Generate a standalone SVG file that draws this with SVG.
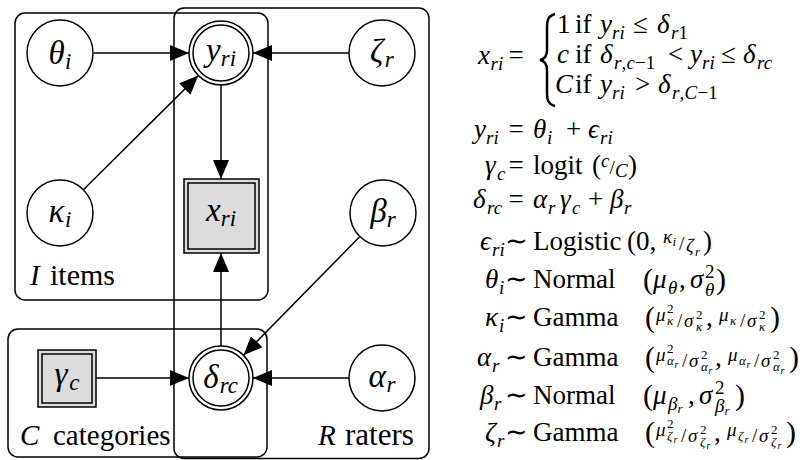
<svg xmlns="http://www.w3.org/2000/svg" width="807" height="460" viewBox="0 0 807 460">
<defs>
<marker id="ah" markerUnits="userSpaceOnUse" markerWidth="19" markerHeight="16" refX="19" refY="8" orient="auto">
<path d="M0,0 L19,8 L0,16 z" fill="#000"/>
</marker>
</defs>
<rect width="807" height="460" fill="#fff"/>
<g id="plates" fill="none" stroke="#000" stroke-width="1.5">
<rect id="plate-I" x="15" y="13" width="253" height="287" rx="10"/>
<rect id="plate-R" x="174" y="8" width="255" height="450.5" rx="10"/>
<rect id="plate-C" x="8" y="329" width="259" height="128" rx="10"/>
</g>
<g id="plate-labels" fill="#000">
<text x="30" y="285" font-family="Liberation Serif" font-size="29" font-style="italic">I</text>
<text x="50" y="285" font-family="Liberation Serif" font-size="30">items</text>
<text x="20" y="445" font-family="Liberation Serif" font-size="29" font-style="italic">C</text>
<text x="53" y="445" font-family="Liberation Serif" font-size="29">categories</text>
<text x="318" y="445" font-family="Liberation Serif" font-size="29" font-style="italic">R</text>
<text x="345" y="445" font-family="Liberation Serif" font-size="31">raters</text>
</g>
<g id="connectors" fill="none" stroke="#000" stroke-width="1.5" marker-end="url(#ah)">
<path d="M94,53 L189,53"/>
<path d="M349,53 L253,53"/>
<path d="M83.4,189.7 L198.3,75.6"/>
<path d="M221,85 L221,179"/>
<path d="M221,346 L221,253"/>
<path d="M359.9,236.5 L243.4,355.2"/>
<path d="M96,378 L189,378"/>
<path d="M349,378 L253,378"/>
</g>
<g id="theta">
<circle cx="60" cy="53" r="33" fill="#fff" stroke="#000" stroke-width="1.5"/>
<text x="48.5" y="64" font-family="Liberation Serif" font-size="33" font-style="italic">θ</text>
<text x="65" y="69" font-family="Liberation Serif" font-size="23" font-style="italic">i</text>
</g>
<g id="y">
<circle cx="221" cy="53" r="32" fill="#fff" stroke="#000" stroke-width="1.5"/>
<circle cx="221" cy="53" r="28" fill="#fff" stroke="#000" stroke-width="1.5"/>
<text x="206" y="61" font-family="Liberation Serif" font-size="33" font-style="italic">y</text>
<text x="220.7" y="66" font-family="Liberation Serif" font-size="23" font-style="italic">ri</text>
</g>
<g id="zeta">
<circle cx="382" cy="53" r="33" fill="#fff" stroke="#000" stroke-width="1.5"/>
<text x="370" y="62" font-family="Liberation Serif" font-size="33" font-style="italic">ζ</text>
<text x="384.8" y="67" font-family="Liberation Serif" font-size="23" font-style="italic">r</text>
</g>
<g id="kappa">
<circle cx="60" cy="213" r="33" fill="#fff" stroke="#000" stroke-width="1.5"/>
<text x="48.5" y="222" font-family="Liberation Serif" font-size="33" font-style="italic">κ</text>
<text x="65" y="227" font-family="Liberation Serif" font-size="23" font-style="italic">i</text>
</g>
<g id="x">
<rect x="184" y="179" width="75" height="74" fill="#dcdcdc" stroke="#000" stroke-width="1.5"/>
<rect x="188" y="183" width="67" height="66" fill="#dcdcdc" stroke="#000" stroke-width="1.5"/>
<text x="206" y="221" font-family="Liberation Serif" font-size="33" font-style="italic">x</text>
<text x="220.7" y="226" font-family="Liberation Serif" font-size="23" font-style="italic">ri</text>
</g>
<g id="beta">
<circle cx="383" cy="213" r="33" fill="#fff" stroke="#000" stroke-width="1.5"/>
<text x="370.3" y="222" font-family="Liberation Serif" font-size="33" font-style="italic">β</text>
<text x="386.8" y="227" font-family="Liberation Serif" font-size="23" font-style="italic">r</text>
</g>
<g id="gamma">
<rect x="38" y="350" width="58" height="57" fill="#dcdcdc" stroke="#000" stroke-width="1.5"/>
<rect x="42" y="354" width="50" height="49" fill="#dcdcdc" stroke="#000" stroke-width="1.5"/>
<text x="54.5" y="385" font-family="Liberation Serif" font-size="33" font-style="italic">γ</text>
<text x="69.2" y="390" font-family="Liberation Serif" font-size="23" font-style="italic">c</text>
</g>
<g id="delta">
<circle cx="221" cy="378" r="32" fill="#fff" stroke="#000" stroke-width="1.5"/>
<circle cx="221" cy="378" r="28" fill="#fff" stroke="#000" stroke-width="1.5"/>
<text x="203.2" y="388" font-family="Liberation Serif" font-size="33" font-style="italic">δ</text>
<text x="219.7" y="393" font-family="Liberation Serif" font-size="23" font-style="italic">rc</text>
</g>
<g id="alpha">
<circle cx="382" cy="378" r="33" fill="#fff" stroke="#000" stroke-width="1.5"/>
<text x="368.5" y="387" font-family="Liberation Serif" font-size="33" font-style="italic">α</text>
<text x="386.5" y="392" font-family="Liberation Serif" font-size="23" font-style="italic">r</text>
</g>
<g id="equations" fill="#000">
<path d="M555,14 C548,16 547,20 547,28 L547,50 C547,56 545,59 540,60 C545,61 547,64 547,70 L547,92 C547,100 548,104 555,106" fill="none" stroke="#000" stroke-width="2.5"/>
<text x="478" y="64" font-family="Liberation Serif" font-size="27" font-style="italic">x</text>
<text x="490.5" y="70" font-family="Liberation Serif" font-size="19" font-style="italic">ri</text>
<text x="516" y="64" font-family="Liberation Serif" font-size="27" text-anchor="middle">=</text>

<text x="557" y="33" font-family="Liberation Serif" font-size="27">1</text>
<text x="575" y="33" font-family="Liberation Serif" font-size="27">if</text>
<text x="600" y="33" font-family="Liberation Serif" font-size="27" font-style="italic">y</text>
<text x="612" y="39" font-family="Liberation Serif" font-size="19" font-style="italic">ri</text>
<text x="633" y="33" font-family="Liberation Serif" font-size="27">≤</text>
<text x="657" y="33" font-family="Liberation Serif" font-size="27" font-style="italic">δ</text>
<text x="671" y="39" font-family="Liberation Serif" font-size="19" font-style="italic">r</text>
<text x="678.5" y="39" font-family="Liberation Serif" font-size="19">1</text>

<text x="557" y="63" font-family="Liberation Serif" font-size="27" font-style="italic">c</text>
<text x="575" y="63" font-family="Liberation Serif" font-size="27">if</text>
<text x="600" y="63" font-family="Liberation Serif" font-size="27" font-style="italic">δ</text>
<text x="614" y="69" font-family="Liberation Serif" font-size="19" font-style="italic">r</text>
<text x="621.5" y="69" font-family="Liberation Serif" font-size="19">,</text>
<text x="626.5" y="69" font-family="Liberation Serif" font-size="19" font-style="italic">c</text>
<text x="635" y="69" font-family="Liberation Serif" font-size="19">−1</text>
<text x="668" y="63" font-family="Liberation Serif" font-size="27">&lt;</text>
<text x="690" y="63" font-family="Liberation Serif" font-size="27" font-style="italic">y</text>
<text x="702" y="69" font-family="Liberation Serif" font-size="19" font-style="italic">ri</text>
<text x="721" y="63" font-family="Liberation Serif" font-size="27">≤</text>
<text x="743" y="63" font-family="Liberation Serif" font-size="27" font-style="italic">δ</text>
<text x="757" y="69" font-family="Liberation Serif" font-size="19" font-style="italic">rc</text>

<text x="555" y="93" font-family="Liberation Serif" font-size="27" font-style="italic">C</text>
<text x="575" y="93" font-family="Liberation Serif" font-size="27">if</text>
<text x="600" y="93" font-family="Liberation Serif" font-size="27" font-style="italic">y</text>
<text x="612" y="99" font-family="Liberation Serif" font-size="19" font-style="italic">ri</text>
<text x="635" y="93" font-family="Liberation Serif" font-size="27">&gt;</text>
<text x="658" y="93" font-family="Liberation Serif" font-size="27" font-style="italic">δ</text>
<text x="672" y="99" font-family="Liberation Serif" font-size="19" font-style="italic">r</text>
<text x="679.5" y="99" font-family="Liberation Serif" font-size="19">,</text>
<text x="684.5" y="99" font-family="Liberation Serif" font-size="19" font-style="italic">C</text>
<text x="697.5" y="99" font-family="Liberation Serif" font-size="19">−1</text>

<text x="474" y="138" font-family="Liberation Serif" font-size="27" font-style="italic">y</text>
<text x="486" y="144" font-family="Liberation Serif" font-size="19" font-style="italic">ri</text>
<text x="516" y="138" font-family="Liberation Serif" font-size="27" text-anchor="middle">=</text>
<text x="533" y="138" font-family="Liberation Serif" font-size="27" font-style="italic">θ</text>
<text x="547" y="144" font-family="Liberation Serif" font-size="19" font-style="italic">i</text>
<text x="566" y="138" font-family="Liberation Serif" font-size="27">+</text>
<text x="588" y="138" font-family="Liberation Serif" font-size="27" font-style="italic">ϵ</text>
<text x="600" y="144" font-family="Liberation Serif" font-size="19" font-style="italic">ri</text>

<text x="485" y="174" font-family="Liberation Serif" font-size="27" font-style="italic">γ</text>
<text x="497" y="180" font-family="Liberation Serif" font-size="19" font-style="italic">c</text>
<text x="516" y="174" font-family="Liberation Serif" font-size="27" text-anchor="middle">=</text>
<text x="533" y="174" font-family="Liberation Serif" font-size="27">logit</text>
<text x="592" y="174" font-family="Liberation Serif" font-size="27">(</text>
<text x="601" y="167" font-family="Liberation Serif" font-size="19" font-style="italic">c</text>
<text x="609.5" y="174" font-family="Liberation Serif" font-size="19">/</text>
<text x="615" y="177" font-family="Liberation Serif" font-size="19" font-style="italic">C</text>
<text x="628" y="174" font-family="Liberation Serif" font-size="27">)</text>

<text x="473" y="208" font-family="Liberation Serif" font-size="27" font-style="italic">δ</text>
<text x="487" y="214" font-family="Liberation Serif" font-size="19" font-style="italic">rc</text>
<text x="516" y="208" font-family="Liberation Serif" font-size="27" text-anchor="middle">=</text>
<text x="533" y="208" font-family="Liberation Serif" font-size="27" font-style="italic">α</text>
<text x="548" y="214" font-family="Liberation Serif" font-size="19" font-style="italic">r</text>
<text x="560" y="208" font-family="Liberation Serif" font-size="27" font-style="italic">γ</text>
<text x="572" y="214" font-family="Liberation Serif" font-size="19" font-style="italic">c</text>
<text x="588" y="208" font-family="Liberation Serif" font-size="27">+</text>
<text x="610" y="208" font-family="Liberation Serif" font-size="27" font-style="italic">β</text>
<text x="624" y="214" font-family="Liberation Serif" font-size="19" font-style="italic">r</text>

<text x="480" y="250" font-family="Liberation Serif" font-size="27" font-style="italic">ϵ</text>
<text x="492" y="256" font-family="Liberation Serif" font-size="19" font-style="italic">ri</text>
<text x="516" y="250" font-family="Liberation Serif" font-size="27" text-anchor="middle">∼</text>
<text x="533" y="250" font-family="Liberation Serif" font-size="27">Logistic</text>
<text x="627" y="250" font-family="Liberation Serif" font-size="27">(0,</text>
<text x="663" y="243" font-family="Liberation Serif" font-size="19" font-style="italic">κ</text>
<text x="672.5" y="246" font-family="Liberation Serif" font-size="13" font-style="italic">i</text>
<text x="679" y="250" font-family="Liberation Serif" font-size="19">/</text>
<text x="686" y="252" font-family="Liberation Serif" font-size="19" font-style="italic">ζ</text>
<text x="695" y="256" font-family="Liberation Serif" font-size="13" font-style="italic">r</text>
<text x="703" y="250" font-family="Liberation Serif" font-size="27">)</text>

<text x="485" y="288" font-family="Liberation Serif" font-size="27" font-style="italic">θ</text>
<text x="499" y="294" font-family="Liberation Serif" font-size="19" font-style="italic">i</text>
<text x="516" y="288" font-family="Liberation Serif" font-size="27" text-anchor="middle">∼</text>
<text x="533" y="288" font-family="Liberation Serif" font-size="27">Normal</text>
<text x="643" y="289" font-family="Liberation Serif" font-size="30">(</text>
<text x="653" y="288" font-family="Liberation Serif" font-size="27" font-style="italic">μ</text>
<text x="668" y="294" font-family="Liberation Serif" font-size="19" font-style="italic">θ</text>
<text x="679" y="288" font-family="Liberation Serif" font-size="27">,</text>
<text x="690" y="288" font-family="Liberation Serif" font-size="27" font-style="italic">σ</text>
<text x="705" y="278" font-family="Liberation Serif" font-size="19">2</text>
<text x="705" y="296" font-family="Liberation Serif" font-size="19" font-style="italic">θ</text>
<text x="716" y="289" font-family="Liberation Serif" font-size="30">)</text>

<text x="485" y="326" font-family="Liberation Serif" font-size="27" font-style="italic">κ</text>
<text x="499" y="332" font-family="Liberation Serif" font-size="19" font-style="italic">i</text>
<text x="516" y="326" font-family="Liberation Serif" font-size="27" text-anchor="middle">∼</text>
<text x="533" y="326" font-family="Liberation Serif" font-size="27">Gamma</text>
<text x="645" y="327" font-family="Liberation Serif" font-size="30">(</text>
<text x="656" y="321" font-family="Liberation Serif" font-size="19" font-style="italic">μ</text>
<text x="667" y="313" font-family="Liberation Serif" font-size="13">2</text>
<text x="667" y="325" font-family="Liberation Serif" font-size="13" font-style="italic">κ</text>
<text x="677" y="327" font-family="Liberation Serif" font-size="19">/</text>
<text x="684" y="327" font-family="Liberation Serif" font-size="19" font-style="italic">σ</text>
<text x="696" y="319" font-family="Liberation Serif" font-size="13">2</text>
<text x="696" y="331" font-family="Liberation Serif" font-size="13" font-style="italic">κ</text>
<text x="706" y="326" font-family="Liberation Serif" font-size="27">,</text>
<text x="719" y="321" font-family="Liberation Serif" font-size="19" font-style="italic">μ</text>
<text x="730" y="325" font-family="Liberation Serif" font-size="13" font-style="italic">κ</text>
<text x="740" y="327" font-family="Liberation Serif" font-size="19">/</text>
<text x="747" y="327" font-family="Liberation Serif" font-size="19" font-style="italic">σ</text>
<text x="759" y="319" font-family="Liberation Serif" font-size="13">2</text>
<text x="759" y="331" font-family="Liberation Serif" font-size="13" font-style="italic">κ</text>
<text x="770" y="327" font-family="Liberation Serif" font-size="30">)</text>

<text x="477" y="366" font-family="Liberation Serif" font-size="27" font-style="italic">α</text>
<text x="492" y="372" font-family="Liberation Serif" font-size="19" font-style="italic">r</text>
<text x="516" y="366" font-family="Liberation Serif" font-size="27" text-anchor="middle">∼</text>
<text x="533" y="366" font-family="Liberation Serif" font-size="27">Gamma</text>
<text x="645" y="367" font-family="Liberation Serif" font-size="30">(</text>
<text x="656" y="361" font-family="Liberation Serif" font-size="19" font-style="italic">μ</text>
<text x="667" y="353" font-family="Liberation Serif" font-size="13">2</text>
<text x="667" y="365" font-family="Liberation Serif" font-size="13" font-style="italic">α</text>
<text x="674.5" y="368" font-family="Liberation Serif" font-size="10" font-style="italic">r</text>
<text x="682" y="367" font-family="Liberation Serif" font-size="19">/</text>
<text x="689" y="367" font-family="Liberation Serif" font-size="19" font-style="italic">σ</text>
<text x="701" y="359" font-family="Liberation Serif" font-size="13">2</text>
<text x="701" y="371" font-family="Liberation Serif" font-size="13" font-style="italic">α</text>
<text x="708.5" y="374" font-family="Liberation Serif" font-size="10" font-style="italic">r</text>
<text x="715" y="366" font-family="Liberation Serif" font-size="27">,</text>
<text x="728" y="361" font-family="Liberation Serif" font-size="19" font-style="italic">μ</text>
<text x="739" y="365" font-family="Liberation Serif" font-size="13" font-style="italic">α</text>
<text x="746.5" y="368" font-family="Liberation Serif" font-size="10" font-style="italic">r</text>
<text x="754" y="367" font-family="Liberation Serif" font-size="19">/</text>
<text x="761" y="367" font-family="Liberation Serif" font-size="19" font-style="italic">σ</text>
<text x="773" y="359" font-family="Liberation Serif" font-size="13">2</text>
<text x="773" y="371" font-family="Liberation Serif" font-size="13" font-style="italic">α</text>
<text x="780.5" y="374" font-family="Liberation Serif" font-size="10" font-style="italic">r</text>
<text x="789" y="367" font-family="Liberation Serif" font-size="30">)</text>

<text x="480" y="404" font-family="Liberation Serif" font-size="27" font-style="italic">β</text>
<text x="494" y="410" font-family="Liberation Serif" font-size="19" font-style="italic">r</text>
<text x="516" y="404" font-family="Liberation Serif" font-size="27" text-anchor="middle">∼</text>
<text x="533" y="404" font-family="Liberation Serif" font-size="27">Normal</text>
<text x="643" y="405" font-family="Liberation Serif" font-size="30">(</text>
<text x="653" y="404" font-family="Liberation Serif" font-size="27" font-style="italic">μ</text>
<text x="668" y="410" font-family="Liberation Serif" font-size="19" font-style="italic">β</text>
<text x="677.5" y="413" font-family="Liberation Serif" font-size="13" font-style="italic">r</text>
<text x="688" y="404" font-family="Liberation Serif" font-size="27">,</text>
<text x="699" y="404" font-family="Liberation Serif" font-size="27" font-style="italic">σ</text>
<text x="715" y="394" font-family="Liberation Serif" font-size="19">2</text>
<text x="715" y="412" font-family="Liberation Serif" font-size="19" font-style="italic">β</text>
<text x="724.5" y="415" font-family="Liberation Serif" font-size="13" font-style="italic">r</text>
<text x="735" y="405" font-family="Liberation Serif" font-size="30">)</text>

<text x="485" y="441" font-family="Liberation Serif" font-size="27" font-style="italic">ζ</text>
<text x="497" y="447" font-family="Liberation Serif" font-size="19" font-style="italic">r</text>
<text x="516" y="441" font-family="Liberation Serif" font-size="27" text-anchor="middle">∼</text>
<text x="533" y="441" font-family="Liberation Serif" font-size="27">Gamma</text>
<text x="645" y="442" font-family="Liberation Serif" font-size="30">(</text>
<text x="656" y="436" font-family="Liberation Serif" font-size="19" font-style="italic">μ</text>
<text x="667" y="428" font-family="Liberation Serif" font-size="13">2</text>
<text x="667" y="440" font-family="Liberation Serif" font-size="13" font-style="italic">ζ</text>
<text x="673.5" y="443" font-family="Liberation Serif" font-size="10" font-style="italic">r</text>
<text x="681" y="442" font-family="Liberation Serif" font-size="19">/</text>
<text x="688" y="442" font-family="Liberation Serif" font-size="19" font-style="italic">σ</text>
<text x="700" y="434" font-family="Liberation Serif" font-size="13">2</text>
<text x="700" y="446" font-family="Liberation Serif" font-size="13" font-style="italic">ζ</text>
<text x="706.5" y="449" font-family="Liberation Serif" font-size="10" font-style="italic">r</text>
<text x="714" y="441" font-family="Liberation Serif" font-size="27">,</text>
<text x="727" y="436" font-family="Liberation Serif" font-size="19" font-style="italic">μ</text>
<text x="738" y="440" font-family="Liberation Serif" font-size="13" font-style="italic">ζ</text>
<text x="744.5" y="443" font-family="Liberation Serif" font-size="10" font-style="italic">r</text>
<text x="752" y="442" font-family="Liberation Serif" font-size="19">/</text>
<text x="759" y="442" font-family="Liberation Serif" font-size="19" font-style="italic">σ</text>
<text x="771" y="434" font-family="Liberation Serif" font-size="13">2</text>
<text x="771" y="446" font-family="Liberation Serif" font-size="13" font-style="italic">ζ</text>
<text x="777.5" y="449" font-family="Liberation Serif" font-size="10" font-style="italic">r</text>
<text x="786" y="442" font-family="Liberation Serif" font-size="30">)</text>
</g>
</svg>
